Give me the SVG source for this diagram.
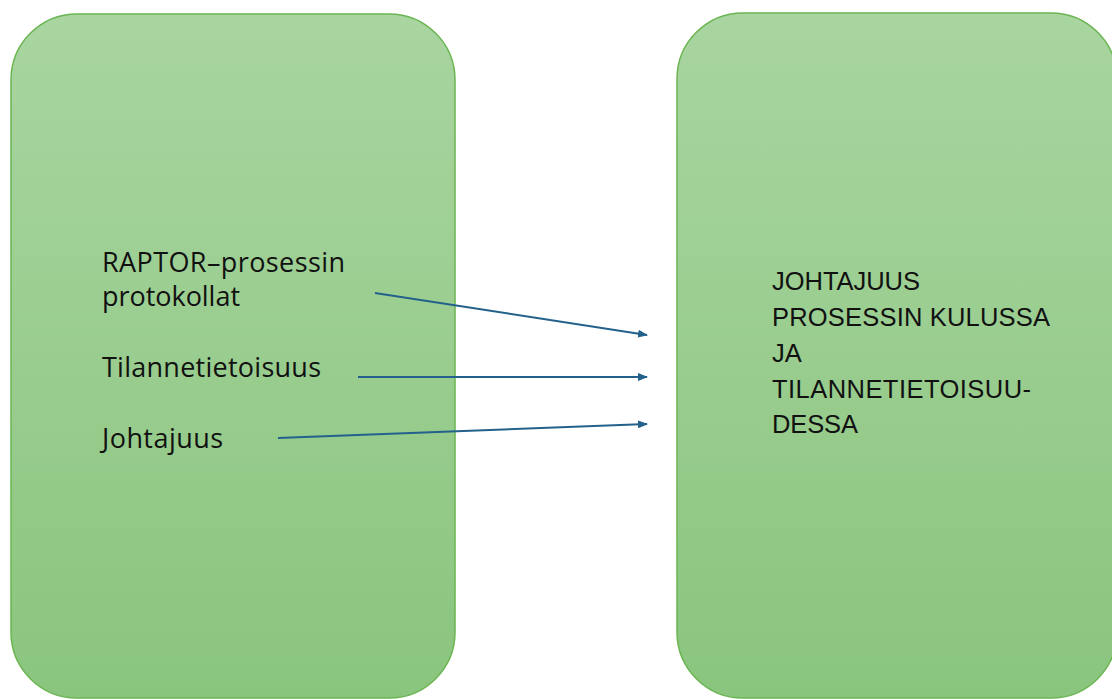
<svg xmlns="http://www.w3.org/2000/svg" width="1112" height="699" viewBox="0 0 1112 699">
<defs>
<linearGradient id="g" x1="0" y1="0" x2="0" y2="1">
<stop offset="0" stop-color="#a9d5a0"/>
<stop offset="1" stop-color="#8ac57e"/>
</linearGradient>
<marker id="ah" markerWidth="10" markerHeight="8" refX="9" refY="4" orient="auto" markerUnits="userSpaceOnUse">
<path d="M0,0 L10,4 L0,8 Z" fill="#23618c"/>
</marker>
<style>
.box{fill:url(#g);stroke:#6ab552;stroke-width:1.5}
.t{font-family:"Open Sans","Liberation Sans",sans-serif;font-size:27px;fill:#111}
.u{font-family:"Liberation Sans",Arial,sans-serif;font-size:25.5px;fill:#111}
.c{stroke:#23618c;stroke-width:2;fill:none;marker-end:url(#ah)}
</style>
</defs>
<g id="left">
<rect class="box" x="11" y="14" width="444" height="684" rx="66" ry="66"/>
<text class="t" x="102" y="272" textLength="243" lengthAdjust="spacing">RAPTOR–prosessin</text>
<text class="t" x="102" y="306" textLength="138" lengthAdjust="spacing">protokollat</text>
<text class="t" x="102" y="377" textLength="219" lengthAdjust="spacing">Tilannetietoisuus</text>
<text class="t" x="102" y="448" textLength="121" lengthAdjust="spacing">Johtajuus</text>
</g>
<g id="right">
<rect class="box" x="677" y="13" width="440" height="685" rx="66" ry="66"/>
<text class="u" x="772" y="290" textLength="148" lengthAdjust="spacing">JOHTAJUUS</text>
<text class="u" x="772" y="326" textLength="278" lengthAdjust="spacing">PROSESSIN KULUSSA</text>
<text class="u" x="772" y="362">JA</text>
<text class="u" x="772" y="398" textLength="259" lengthAdjust="spacing">TILANNETIETOISUU-</text>
<text class="u" x="772" y="433" textLength="86" lengthAdjust="spacing">DESSA</text>
</g>
<g id="connectors">
<line class="c" x1="375" y1="293" x2="647" y2="335"/>
<line class="c" x1="358" y1="377" x2="647" y2="377"/>
<line class="c" x1="278" y1="438" x2="647" y2="424"/>
</g>
</svg>
